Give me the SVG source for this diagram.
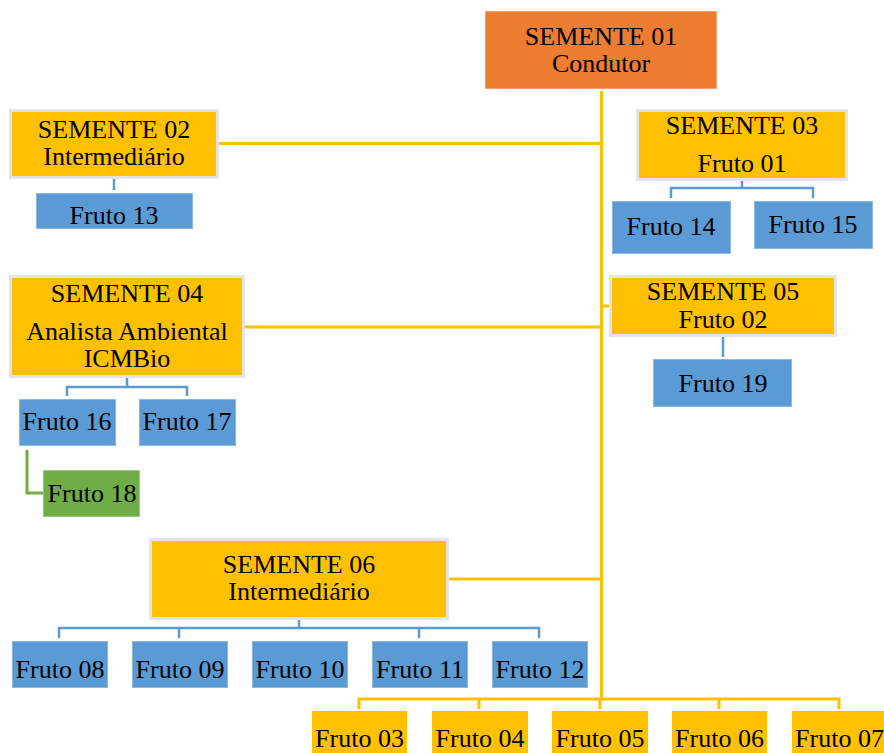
<svg xmlns="http://www.w3.org/2000/svg" width="884" height="753" viewBox="0 0 884 753">
<style>
text{font-family:"Liberation Serif","Times New Roman",serif;font-size:26px;fill:#000;text-anchor:middle}
.or{fill:#ED7D31;stroke:#F2A172;stroke-width:1}
.ye{fill:#FFC000;stroke:#E4E4E4;stroke-width:3}
.yb{fill:#FFC000}
.bl{fill:#5B9BD5;stroke:#8CB8E2;stroke-width:1}
.gr{fill:#70AD47;stroke:#9CC77F;stroke-width:1}
.cy{stroke:#FFC000;stroke-width:3;fill:none}
.cb{stroke:#5B9BD5;stroke-width:2.5;fill:none}
.cg{stroke:#70AD47;stroke-width:3;fill:none}
</style>
<rect width="884" height="753" fill="#fff"/>
<g id="connectors">
<path class="cy" d="M601.5 91V699M218 143.5H601.5M601.5 306H611M245 327H601.5M447 579H601.5M359 709V699H839V709M479 699V709M600 699V709M719 699V709"/>
<path class="cb" d="M114 179V190M742 180V188M671 198V188H813V198M127 378V387M67 396V387H187V396M723 337V357M299 618V628M59 638V628H539V638M179 628V638M419 628V638"/>
<path class="cg" d="M27 450V493H43"/>
</g>
<g id="s01"><rect class="or" x="485.5" y="11.5" width="231" height="77"/><text x="601" y="45">SEMENTE 01</text><text x="601" y="72">Condutor</text></g>
<g id="s02"><rect class="ye" x="10.5" y="110.5" width="207" height="67"/><text x="114" y="138">SEMENTE 02</text><text x="114" y="165">Intermediário</text></g>
<g id="f13"><rect class="bl" x="36.5" y="193.5" width="156" height="35"/><text x="114" y="224">Fruto 13</text></g>
<g id="s03"><rect class="ye" x="637.5" y="110.5" width="209" height="69"/><text x="742" y="134">SEMENTE 03</text><text x="742" y="172">Fruto 01</text></g>
<g id="f14"><rect class="bl" x="612.5" y="201.5" width="118" height="52"/><text x="671" y="235">Fruto 14</text></g>
<g id="f15"><rect class="bl" x="754.5" y="201.5" width="118" height="47"/><text x="813" y="233">Fruto 15</text></g>
<g id="s04"><rect class="ye" x="10.5" y="276.5" width="233" height="100"/><text x="127" y="302">SEMENTE 04</text><text x="127" y="340">Analista Ambiental</text><text x="127" y="367">ICMBio</text></g>
<g id="f16"><rect class="bl" x="19.5" y="399.5" width="96" height="46"/><text x="67" y="430">Fruto 16</text></g>
<g id="f17"><rect class="bl" x="139.5" y="399.5" width="96" height="46"/><text x="187" y="430">Fruto 17</text></g>
<g id="f18"><rect class="gr" x="43.5" y="470.5" width="96" height="46"/><text x="92" y="502">Fruto 18</text></g>
<g id="s05"><rect class="ye" x="610.5" y="276.5" width="225" height="59"/><text x="723" y="300">SEMENTE 05</text><text x="723" y="328">Fruto 02</text></g>
<g id="f19"><rect class="bl" x="653.5" y="359.5" width="138" height="47"/><text x="723" y="392">Fruto 19</text></g>
<g id="s06"><rect class="ye" x="150.5" y="539.5" width="297" height="79"/><text x="299" y="573">SEMENTE 06</text><text x="299" y="600">Intermediário</text></g>
<g id="f08"><rect class="bl" x="12.5" y="641.5" width="95" height="46"/><text x="60" y="678">Fruto 08</text></g>
<g id="f09"><rect class="bl" x="132.5" y="641.5" width="95" height="46"/><text x="180" y="678">Fruto 09</text></g>
<g id="f10"><rect class="bl" x="252.5" y="641.5" width="95" height="46"/><text x="300" y="678">Fruto 10</text></g>
<g id="f11"><rect class="bl" x="372.5" y="641.5" width="95" height="46"/><text x="420" y="678">Fruto 11</text></g>
<g id="f12"><rect class="bl" x="492.5" y="641.5" width="95" height="46"/><text x="540" y="678">Fruto 12</text></g>
<g id="f03"><rect class="yb" x="312" y="711" width="95" height="42"/><text x="359.5" y="747">Fruto 03</text></g>
<g id="f04"><rect class="yb" x="432" y="711" width="96" height="42"/><text x="480" y="747">Fruto 04</text></g>
<g id="f05"><rect class="yb" x="552" y="711" width="96" height="42"/><text x="600" y="747">Fruto 05</text></g>
<g id="f06"><rect class="yb" x="672" y="711" width="95" height="42"/><text x="719.5" y="747">Fruto 06</text></g>
<g id="f07"><rect class="yb" x="792" y="711" width="95" height="42"/><text x="839.5" y="747">Fruto 07</text></g>
</svg>
